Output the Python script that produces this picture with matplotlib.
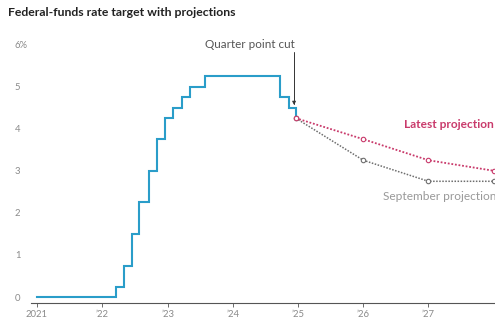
import matplotlib
matplotlib.use("Agg")
import matplotlib.pyplot as plt
import numpy as np

# Fed funds target (lower bound), step changes
rate_dates = [2021.0, 2022.21, 2022.34, 2022.46, 2022.57, 2022.72, 2022.84, 2022.96,
              2023.09, 2023.22, 2023.34, 2023.57, 2024.72, 2024.86, 2024.965]
rate_values = [0.0, 0.25, 0.75, 1.5, 2.25, 3.0, 3.75, 4.25,
               4.5, 4.75, 5.0, 5.25, 4.75, 4.5, 4.25]

proj_x = [2024.965, 2026.0, 2027.0, 2028.0]
latest_proj = [4.25, 3.75, 3.25, 3.0]
sept_proj = [4.25, 3.25, 2.75, 2.75]

ytick_vals = [0, 1, 2, 3, 4, 5, 6]
ytick_labels = ["0", "1", "2", "3", "4", "5", "6%"]
xtick_vals = [2021, 2022, 2023, 2024, 2025, 2026, 2027]
xtick_labels = ["2021", "\u201922", "\u201923", "\u201924", "\u201925", "\u201926", "\u201927"]

BLUE = "#2a9dc9"
PINK = "#c93a6b"
GRAY = "#6e6e6e"
LABEL = "#8a8a8a"

plt.rcParams['font.family'] = ['Lato', 'DejaVu Sans']

fig = plt.figure(figsize=(4.95, 3.21), dpi=100)
W, H = 495, 321
left_px, right_px = 30.5, 495
top_px, bot_px = 36, 303
ax = fig.add_axes([left_px / W, 1 - bot_px / H, (right_px - left_px) / W, (bot_px - top_px) / H])

ax.set_xlim(2020.9, 2028.02)
ax.set_ylim(-0.14, 6.2)

ax.step(rate_dates, rate_values, where="post", color=BLUE, lw=1.5,
        solid_joinstyle="miter", zorder=3)

ax.plot(proj_x, latest_proj, color=PINK, lw=1.3, ls=(0, (1, 1)), marker="o", ms=3.2,
        mfc="white", mec=PINK, mew=0.8, zorder=4, clip_on=False)
ax.plot(proj_x, sept_proj, color=GRAY, lw=1.1, ls=(0, (1, 1)), marker="o", ms=3.2,
        mfc="white", mec=GRAY, mew=0.8, zorder=3, clip_on=False)

ax.text(2026.62, 4.11, "Latest projection", color=PINK, fontsize=8.6, fontweight="bold",
        va="center", ha="left")
ax.text(2026.30, 2.40, "September projection", color="#999999", fontsize=8.6,
        va="center", ha="left")

ax.annotate("Quarter point cut", xy=(2024.94, 4.56), xytext=(2024.26, 6.01),
            ha="center", va="center", fontsize=8.4, color="#555555",
            arrowprops=dict(arrowstyle="-|>", color="#333333", lw=0.7,
                            mutation_scale=5, shrinkA=0, shrinkB=0,
                            connectionstyle="angle,angleA=0,angleB=90,rad=0",
                            relpos=(1.0, 0.5)))

for s in ["top", "right", "left"]:
    ax.spines[s].set_visible(False)
ax.spines["bottom"].set_color("#555555")
ax.spines["bottom"].set_linewidth(0.8)

ax.set_yticks(ytick_vals)
ax.set_yticklabels(ytick_labels)
ax.tick_params(axis="y", length=0, pad=11.2, labelsize=6.8, labelcolor=LABEL)
for lab in ax.get_yticklabels():
    lab.set_horizontalalignment("left")

ax.set_xticks(xtick_vals)
ax.set_xticklabels(xtick_labels)
ax.tick_params(axis="x", length=3, width=0.6, color="#555555", pad=2,
               labelsize=6.8, labelcolor=LABEL, direction="out")

fig.text(8 / W, 1 - 13 / H, "Federal-funds rate target with projections",
         fontsize=8.8, fontweight="bold", color="#222222", ha="left", va="center")

fig.savefig("out.png", dpi=100)
